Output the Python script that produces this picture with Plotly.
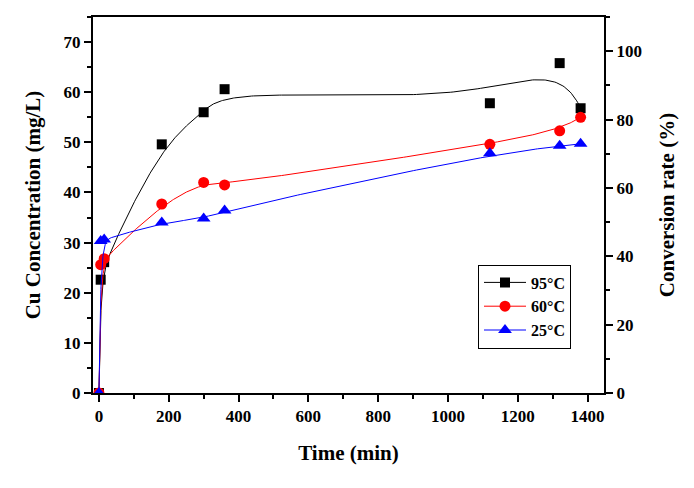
import numpy as np
import plotly.graph_objects as go

# ---- data ----
time_min = [0, 5, 15, 180, 300, 360, 1120, 1320, 1380]
cu_95 = [0, 22.6, 26.1, 49.6, 56.0, 60.6, 57.8, 65.8, 56.8]
cu_60 = [0, 25.6, 26.8, 37.7, 42.0, 41.5, 49.6, 52.3, 55.0]
cu_25 = [0, 30.3, 30.6, 34.0, 34.8, 36.4, 47.8, 49.3, 49.7]
series_names = ["95°C", "60°C", "25°C"]
series_colors = ["#000000", "#FF0000", "#0000FF"]
series_symbols = ["square", "circle", "triangle-up"]
series_sizes = [10, 11, 12]


def bspline(xs, ys, n=400, k=3):
    """Clamped uniform cubic B-spline using the data points as control points."""
    P = np.column_stack([xs, ys]).astype(float)
    m = len(P)
    knots = np.concatenate([np.zeros(k), np.linspace(0, 1, m - k + 1), np.ones(k)])
    t = np.linspace(0, 1, n)
    N = np.zeros((n, len(knots) - 1))
    for i in range(len(knots) - 1):
        N[:, i] = (t >= knots[i]) & (t < knots[i + 1])
    N[t >= 1, m - 1] = 1.0
    for d in range(1, k + 1):
        newN = np.zeros((n, len(knots) - 1 - d))
        for i in range(len(knots) - 1 - d):
            a = knots[i + d] - knots[i]
            b = knots[i + d + 1] - knots[i + 1]
            term = np.zeros(n)
            if a > 0:
                term += (t - knots[i]) / a * N[:, i]
            if b > 0:
                term += (knots[i + d + 1] - t) / b * N[:, i + 1]
            newN[:, i] = term
        N = newN
    C = N @ P
    return C[:, 0], C[:, 1]


FONT = "Liberation Serif, Times New Roman, serif"
fig = go.Figure()

for ys, name, col, sym, sz in zip([cu_95, cu_60, cu_25], series_names,
                                  series_colors, series_symbols, series_sizes):
    cx, cy = bspline(time_min, ys)
    fig.add_trace(go.Scatter(x=cx, y=cy, mode="lines", line=dict(color=col, width=1),
                             showlegend=False, hoverinfo="skip"))
    fig.add_trace(go.Scatter(x=time_min, y=ys, mode="markers", name=name, showlegend=False,
                             marker=dict(symbol=sym, size=sz, color=col, line=dict(width=0))))

# secondary axis placeholder
fig.add_trace(go.Scatter(x=[], y=[], yaxis="y2", showlegend=False))

# legend entries (line + marker)
for name, col, sym, sz in zip(series_names, series_colors, series_symbols, series_sizes):
    fig.add_trace(go.Scatter(x=[None], y=[None], mode="lines+markers", name=name,
                             line=dict(color=col, width=1),
                             marker=dict(symbol=sym, size=sz, color=col, line=dict(width=0))))

axis_common = dict(
    showgrid=False, zeroline=False, showline=True, linecolor="black", linewidth=2,
    ticks="outside", ticklen=7, tickwidth=2, tickcolor="black", automargin=False,
    tickfont=dict(family=FONT, size=17, color="black", weight="bold"),
)
minor_common = dict(ticks="outside", ticklen=4, tickwidth=2, tickcolor="black")
title_font = dict(family=FONT, size=21, color="black", weight="bold")

fig.update_layout(
    width=694, height=488,
    margin=dict(l=93, r=90, t=17, b=95),
    plot_bgcolor="white", paper_bgcolor="white",
    xaxis=dict(range=[-17, 1447], dtick=200, tick0=0, mirror=True,
               minor=dict(dtick=100, **minor_common),
               title=dict(text="Time (min)", font=title_font, standoff=20),
               **axis_common),
    yaxis=dict(range=[0, 75], dtick=10, tick0=0,
               minor=dict(dtick=5, **minor_common),
               title=dict(text="Cu Concentration (mg/L)", font=title_font, standoff=17),
               **axis_common),
    yaxis2=dict(range=[0, 110], dtick=20, tick0=0, overlaying="y", side="right",
                minor=dict(dtick=10, **minor_common),
                title=dict(text="Conversion rate (%)", font=title_font, standoff=18),
                **axis_common),
    legend=dict(x=(478 - 93) / 511, y=(393.5 - 265) / 376, xanchor="left", yanchor="top",
                bordercolor="black", borderwidth=1, bgcolor="white",
                font=dict(family=FONT, size=16, color="black", weight="bold"),
                tracegroupgap=0, itemwidth=42),
    showlegend=True,
)

fig.write_html("out.html", config={"displayModeBar": False},
               post_script="document.body.style.margin='0px';")
